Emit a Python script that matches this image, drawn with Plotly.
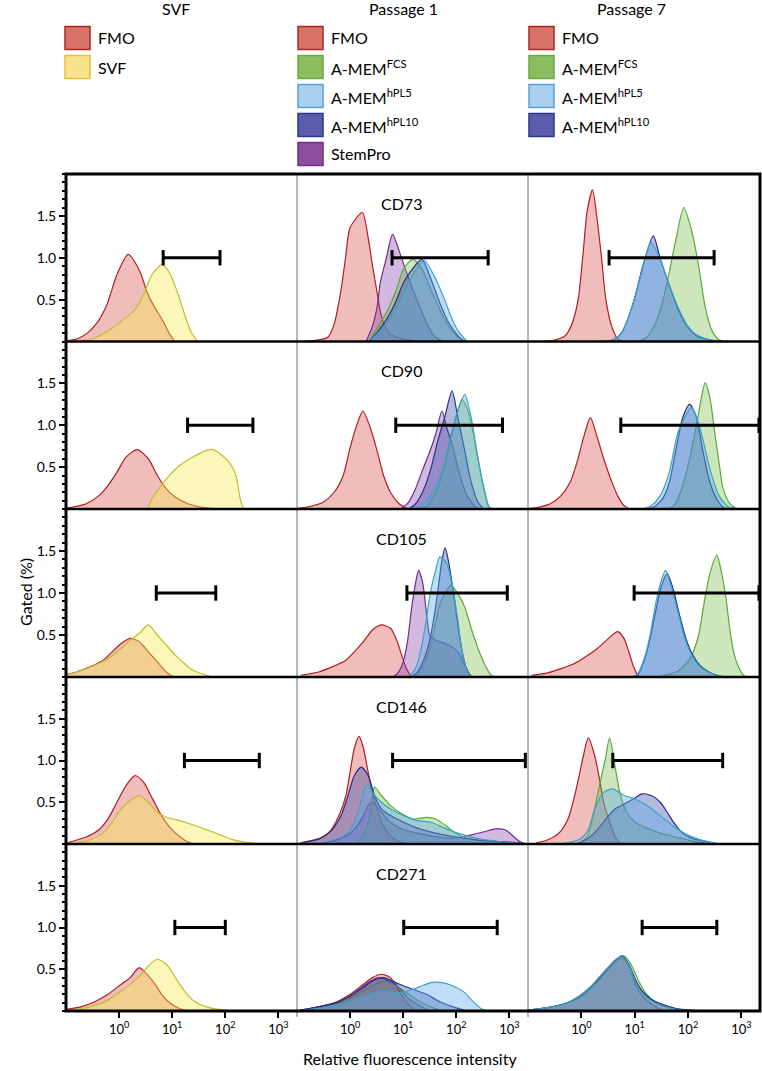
import plotly.graph_objects as go

W, H = 762, 1071

# ---- data: x given as log10(intensity), y = gated (%) ----
CD73_SVF = {
    "FMO": ([-1.0, -0.8, -0.6, -0.42, -0.23, -0.04, 0.17, 0.39, 0.52, 0.64, 0.83, 0.96, 1.05],
            [0.01, 0.03, 0.1, 0.22, 0.44, 0.8, 1.04, 0.84, 0.6, 0.44, 0.24, 0.08, 0.0]),
    "SVF": ([-0.9, -0.5, -0.2, 0.1, 0.3, 0.46, 0.62, 0.81, 0.95, 1.08, 1.22, 1.35, 1.48],
            [0.0, 0.03, 0.13, 0.27, 0.38, 0.56, 0.8, 0.92, 0.82, 0.62, 0.35, 0.12, 0.0]),
}
CD73_P1 = {
    "FMO": ([-0.95, -0.68, -0.42, -0.3, -0.17, -0.08, 0.0, 0.23, 0.34, 0.42, 0.51, 0.59, 0.72, 0.93, 1.27],
            [0.0, 0.01, 0.05, 0.21, 0.62, 1.03, 1.36, 1.54, 1.24, 0.91, 0.58, 0.3, 0.11, 0.04, 0.0]),
    "StemPro": ([0.3, 0.42, 0.51, 0.57, 0.68, 0.8, 0.93, 1.06, 1.18, 1.31, 1.44, 1.6, 1.78],
                [0.0, 0.18, 0.42, 0.71, 0.99, 1.28, 1.07, 0.83, 0.62, 0.42, 0.22, 0.05, 0.0]),
    "FCS": ([0.35, 0.51, 0.68, 0.85, 1.01, 1.18, 1.35, 1.52, 1.69, 1.86, 2.03, 2.2],
            [0.0, 0.16, 0.34, 0.58, 0.87, 0.98, 0.87, 0.62, 0.38, 0.18, 0.05, 0.0]),
    "hPL5": ([0.35, 0.51, 0.68, 0.85, 1.01, 1.18, 1.39, 1.61, 1.78, 1.9, 2.03, 2.2],
             [0.0, 0.09, 0.22, 0.38, 0.58, 0.79, 0.97, 0.75, 0.5, 0.3, 0.13, 0.0]),
    "hPL10": ([0.35, 0.51, 0.68, 0.85, 1.01, 1.18, 1.35, 1.52, 1.69, 1.86, 2.03, 2.15],
              [0.0, 0.11, 0.26, 0.46, 0.71, 0.87, 0.98, 0.75, 0.46, 0.22, 0.07, 0.0]),
}
CD73_P7 = {
    "FMO": ([-0.8, -0.55, -0.3, -0.17, -0.06, 0.03, 0.11, 0.21, 0.3, 0.38, 0.46, 0.57, 0.68, 0.8],
            [0.0, 0.01, 0.07, 0.22, 0.5, 1.03, 1.56, 1.81, 1.44, 0.99, 0.5, 0.18, 0.03, 0.0]),
    "FCS": ([1.05, 1.23, 1.39, 1.52, 1.65, 1.78, 1.92, 2.07, 2.2, 2.32, 2.45, 2.58, 2.7],
            [0.0, 0.05, 0.22, 0.46, 0.83, 1.24, 1.6, 1.32, 0.9, 0.42, 0.13, 0.02, 0.0]),
    "hPL5": ([0.45, 0.63, 0.76, 0.89, 1.01, 1.14, 1.3, 1.48, 1.65, 1.82, 1.99, 2.16, 2.41, 2.6],
             [0.0, 0.03, 0.11, 0.3, 0.54, 0.85, 1.18, 0.98, 0.67, 0.4, 0.19, 0.08, 0.02, 0.0]),
    "hPL10": ([0.45, 0.63, 0.76, 0.89, 1.01, 1.14, 1.35, 1.48, 1.65, 1.82, 1.99, 2.16, 2.41, 2.6],
              [0.0, 0.03, 0.11, 0.3, 0.54, 0.87, 1.26, 0.99, 0.67, 0.38, 0.18, 0.07, 0.02, 0.0]),
}

CD90_SVF = {
    "FMO": ([-1.0, -0.63, -0.38, -0.21, -0.04, 0.13, 0.34, 0.55, 0.72, 0.89, 1.06, 1.31, 1.56, 1.9],
            [0.01, 0.06, 0.16, 0.28, 0.44, 0.62, 0.71, 0.6, 0.4, 0.24, 0.14, 0.06, 0.02, 0.0]),
    "SVF": ([0.55, 0.6, 0.7, 0.89, 1.14, 1.39, 1.65, 1.77, 1.9, 2.07, 2.2, 2.28, 2.34],
            [0.0, 0.1, 0.2, 0.36, 0.52, 0.62, 0.7, 0.71, 0.66, 0.56, 0.4, 0.12, 0.0]),
}
CD90_P1 = {
    "FMO": ([-0.97, -0.76, -0.51, -0.3, -0.13, 0.0, 0.13, 0.24, 0.38, 0.51, 0.63, 0.76, 0.93, 1.1],
            [0.01, 0.03, 0.08, 0.2, 0.4, 0.73, 1.01, 1.17, 0.97, 0.69, 0.4, 0.2, 0.06, 0.0]),
    "StemPro": ([0.95, 1.1, 1.23, 1.35, 1.48, 1.61, 1.73, 1.82, 1.94, 2.07, 2.2, 2.37, 2.45],
                [0.0, 0.08, 0.24, 0.44, 0.65, 0.89, 1.17, 0.97, 0.73, 0.4, 0.16, 0.02, 0.0]),
    "FCS": ([1.2, 1.45, 1.61, 1.73, 1.86, 1.99, 2.11, 2.24, 2.37, 2.49, 2.6, 2.68],
            [0.0, 0.04, 0.2, 0.4, 0.73, 1.09, 1.31, 1.13, 0.73, 0.32, 0.04, 0.0]),
    "hPL5": ([1.15, 1.31, 1.48, 1.65, 1.78, 1.9, 2.03, 2.16, 2.28, 2.41, 2.54, 2.62, 2.7],
             [0.0, 0.02, 0.12, 0.32, 0.56, 0.89, 1.17, 1.37, 1.09, 0.6, 0.2, 0.02, 0.0]),
    "hPL10": ([1.1, 1.23, 1.39, 1.52, 1.65, 1.78, 1.92, 2.03, 2.16, 2.28, 2.41, 2.52],
              [0.0, 0.06, 0.24, 0.48, 0.81, 1.09, 1.41, 1.09, 0.69, 0.32, 0.08, 0.0]),
}
CD90_P7 = {
    "FMO": ([-1.0, -0.89, -0.59, -0.38, -0.21, -0.08, 0.04, 0.17, 0.3, 0.42, 0.55, 0.68, 0.8, 0.9],
            [0.0, 0.01, 0.06, 0.16, 0.32, 0.56, 0.85, 1.09, 0.85, 0.6, 0.36, 0.16, 0.04, 0.0]),
    "FCS": ([1.65, 1.78, 1.9, 2.03, 2.16, 2.24, 2.32, 2.41, 2.49, 2.58, 2.66, 2.79, 2.92],
            [0.0, 0.08, 0.28, 0.6, 1.01, 1.29, 1.51, 1.33, 0.97, 0.56, 0.24, 0.06, 0.0]),
    "hPL5": ([1.15, 1.31, 1.48, 1.65, 1.82, 2.07, 2.24, 2.41, 2.58, 2.75, 2.95],
             [0.0, 0.04, 0.16, 0.44, 0.93, 1.21, 0.93, 0.48, 0.16, 0.03, 0.0]),
    "hPL10": ([1.2, 1.35, 1.52, 1.65, 1.78, 1.9, 2.03, 2.16, 2.28, 2.41, 2.54, 2.66, 2.8],
              [0.0, 0.02, 0.12, 0.32, 0.73, 1.09, 1.25, 1.09, 0.69, 0.32, 0.12, 0.02, 0.0]),
}

CD105_SVF = {
    "FMO": ([-1.0, -0.8, -0.55, -0.3, -0.13, 0.04, 0.21, 0.38, 0.55, 0.72, 0.89, 0.97, 1.05],
            [0.03, 0.06, 0.12, 0.2, 0.3, 0.4, 0.46, 0.42, 0.3, 0.18, 0.06, 0.02, 0.0]),
    "SVF": ([-1.0, -0.8, -0.46, -0.21, 0.04, 0.21, 0.38, 0.55, 0.72, 0.89, 1.06, 1.23, 1.39, 1.65, 1.78],
            [0.03, 0.06, 0.14, 0.22, 0.34, 0.44, 0.52, 0.62, 0.5, 0.38, 0.26, 0.16, 0.08, 0.02, 0.0]),
}
CD105_P1 = {
    "FMO": ([-0.93, -0.59, -0.34, -0.08, 0.08, 0.25, 0.42, 0.59, 0.76, 0.89, 0.97, 1.06, 1.14, 1.2],
            [0.02, 0.06, 0.12, 0.2, 0.3, 0.42, 0.56, 0.62, 0.58, 0.42, 0.26, 0.1, 0.02, 0.0]),
    "StemPro": ([0.8, 0.89, 1.0, 1.08, 1.16, 1.23, 1.29, 1.37, 1.44, 1.5, 1.61, 1.86, 2.03, 2.16, 2.28],
                [0.0, 0.04, 0.18, 0.42, 0.83, 1.11, 1.27, 1.11, 0.75, 0.5, 0.44, 0.38, 0.3, 0.14, 0.0]),
    "FCS": ([1.2, 1.35, 1.48, 1.59, 1.67, 1.78, 1.9, 2.03, 2.16, 2.28, 2.41, 2.54, 2.66, 2.75],
            [0.0, 0.1, 0.3, 0.58, 0.83, 0.99, 1.09, 0.99, 0.83, 0.58, 0.34, 0.14, 0.02, 0.0]),
    "hPL5": ([1.1, 1.23, 1.34, 1.44, 1.52, 1.61, 1.69, 1.82, 1.93, 2.03, 2.11, 2.21, 2.3],
             [0.0, 0.1, 0.34, 0.71, 1.03, 1.27, 1.43, 1.35, 1.07, 0.67, 0.3, 0.06, 0.0]),
    "hPL10": ([1.15, 1.27, 1.42, 1.52, 1.61, 1.67, 1.73, 1.79, 1.86, 1.94, 2.03, 2.11, 2.21, 2.3],
              [0.0, 0.06, 0.26, 0.5, 0.83, 1.11, 1.39, 1.54, 1.35, 1.03, 0.62, 0.3, 0.06, 0.0]),
}
CD105_P7 = {
    "FMO": ([-0.93, -0.63, -0.38, -0.13, 0.08, 0.3, 0.51, 0.68, 0.8, 0.89, 0.97, 1.06, 1.12],
            [0.02, 0.05, 0.1, 0.16, 0.24, 0.34, 0.46, 0.54, 0.46, 0.3, 0.14, 0.02, 0.0]),
    "FCS": ([1.4, 1.56, 1.78, 1.94, 2.07, 2.2, 2.31, 2.41, 2.54, 2.62, 2.71, 2.79, 2.87, 2.96, 3.04, 3.12],
            [0.0, 0.02, 0.06, 0.14, 0.26, 0.5, 0.91, 1.23, 1.45, 1.27, 0.95, 0.54, 0.26, 0.1, 0.02, 0.0]),
    "hPL5": ([0.95, 1.06, 1.18, 1.29, 1.38, 1.48, 1.58, 1.69, 1.82, 1.94, 2.07, 2.2, 2.37, 2.55, 2.7],
             [0.0, 0.04, 0.22, 0.5, 0.83, 1.11, 1.27, 1.07, 0.75, 0.46, 0.26, 0.14, 0.06, 0.02, 0.0]),
    "hPL10": ([0.95, 1.06, 1.18, 1.29, 1.4, 1.5, 1.61, 1.72, 1.84, 1.96, 2.09, 2.22, 2.39, 2.55, 2.7],
              [0.0, 0.03, 0.2, 0.46, 0.8, 1.08, 1.23, 1.05, 0.74, 0.46, 0.26, 0.14, 0.06, 0.02, 0.0]),
}

CD146_SVF = {
    "FMO": ([-1.0, -0.89, -0.63, -0.38, -0.21, -0.04, 0.13, 0.3, 0.46, 0.63, 0.8, 0.97, 1.14, 1.31, 1.45],
            [0.01, 0.03, 0.08, 0.17, 0.3, 0.5, 0.7, 0.82, 0.74, 0.54, 0.34, 0.19, 0.09, 0.02, 0.0]),
    "SVF": ([-0.8, -0.55, -0.3, -0.13, 0.04, 0.21, 0.38, 0.55, 0.72, 0.89, 1.14, 1.39, 1.65, 1.9, 2.15, 2.41, 2.66],
            [0.01, 0.05, 0.13, 0.26, 0.42, 0.52, 0.58, 0.5, 0.38, 0.32, 0.28, 0.23, 0.17, 0.11, 0.05, 0.02, 0.0]),
}
CD146_P1 = {
    "FMO": ([-0.95, -0.59, -0.38, -0.21, -0.08, 0.0, 0.08, 0.17, 0.25, 0.34, 0.42, 0.51, 0.59, 0.72, 0.85, 1.01, 1.15],
            [0.01, 0.06, 0.15, 0.34, 0.58, 0.86, 1.15, 1.29, 1.15, 0.86, 0.62, 0.42, 0.26, 0.13, 0.05, 0.01, 0.0]),
    "StemPro": ([-0.6, -0.25, -0.04, 0.13, 0.25, 0.34, 0.42, 0.59, 0.76, 1.01, 1.27, 1.61, 1.94, 2.28, 2.54, 2.75, 2.92, 3.04, 3.17, 3.3],
                [0.0, 0.05, 0.11, 0.21, 0.34, 0.46, 0.5, 0.38, 0.26, 0.17, 0.13, 0.09, 0.07, 0.11, 0.15, 0.18, 0.17, 0.11, 0.04, 0.0]),
    "FCS": ([0.05, 0.19, 0.3, 0.38, 0.46, 0.59, 0.76, 0.93, 1.18, 1.44, 1.61, 1.78, 1.94, 2.11, 2.37, 2.79, 3.21],
            [0.0, 0.05, 0.17, 0.38, 0.68, 0.58, 0.46, 0.38, 0.3, 0.32, 0.3, 0.23, 0.15, 0.09, 0.05, 0.02, 0.0]),
    "hPL5": ([-0.6, -0.42, -0.13, 0.04, 0.17, 0.25, 0.34, 0.42, 0.59, 0.76, 1.01, 1.27, 1.52, 1.78, 2.03, 2.37, 2.79, 3.21, 3.35],
             [0.0, 0.03, 0.09, 0.21, 0.42, 0.62, 0.72, 0.62, 0.5, 0.42, 0.34, 0.28, 0.26, 0.19, 0.13, 0.07, 0.03, 0.01, 0.0]),
    "hPL10": ([-0.9, -0.55, -0.34, -0.17, -0.04, 0.08, 0.21, 0.34, 0.46, 0.59, 0.76, 1.01, 1.27, 1.61, 1.94, 2.37, 2.79, 3.21, 3.35],
              [0.02, 0.07, 0.17, 0.34, 0.58, 0.82, 0.92, 0.82, 0.58, 0.42, 0.34, 0.26, 0.19, 0.13, 0.09, 0.05, 0.03, 0.01, 0.0]),
}
CD146_P7 = {
    "FMO": ([-0.85, -0.63, -0.42, -0.25, -0.14, -0.04, 0.04, 0.13, 0.25, 0.34, 0.42, 0.53, 0.63, 0.74],
            [0.01, 0.05, 0.13, 0.3, 0.54, 0.82, 1.06, 1.27, 1.06, 0.78, 0.5, 0.26, 0.09, 0.0]),
    "FCS": ([-0.05, 0.11, 0.21, 0.3, 0.38, 0.45, 0.53, 0.63, 0.72, 0.85, 1.01, 1.23, 1.48, 1.73, 1.99, 2.24, 2.5],
            [0.0, 0.09, 0.3, 0.58, 0.82, 1.02, 1.27, 0.94, 0.62, 0.38, 0.26, 0.19, 0.13, 0.09, 0.05, 0.02, 0.0]),
    "hPL5": ([-0.4, -0.21, 0.0, 0.13, 0.25, 0.42, 0.59, 0.8, 1.01, 1.23, 1.48, 1.73, 1.99, 2.24, 2.58],
             [0.0, 0.02, 0.07, 0.17, 0.42, 0.62, 0.66, 0.58, 0.54, 0.46, 0.34, 0.21, 0.11, 0.05, 0.0]),
    "hPL10": ([-0.1, 0.13, 0.3, 0.46, 0.63, 0.8, 0.97, 1.14, 1.31, 1.48, 1.61, 1.73, 1.9, 2.07, 2.32, 2.6],
              [0.0, 0.07, 0.17, 0.3, 0.42, 0.48, 0.54, 0.6, 0.58, 0.5, 0.38, 0.26, 0.13, 0.07, 0.03, 0.0]),
}

CD271_SVF = {
    "FMO": ([-1.0, -0.72, -0.46, -0.21, 0.04, 0.21, 0.38, 0.55, 0.68, 0.8, 0.97, 1.14, 1.3],
            [0.02, 0.05, 0.11, 0.2, 0.32, 0.4, 0.52, 0.42, 0.32, 0.2, 0.09, 0.03, 0.0]),
    "SVF": ([-0.89, -0.55, -0.21, 0.04, 0.25, 0.42, 0.55, 0.72, 0.89, 1.06, 1.23, 1.39, 1.65, 1.99, 2.25],
            [0.01, 0.05, 0.13, 0.24, 0.34, 0.44, 0.54, 0.62, 0.56, 0.4, 0.24, 0.13, 0.05, 0.01, 0.0]),
}
CD271_P1 = {
    "FMO": ([-0.93, -0.59, -0.25, 0.0, 0.25, 0.42, 0.59, 0.76, 0.89, 1.01, 1.14, 1.25],
            [0.01, 0.05, 0.11, 0.2, 0.32, 0.4, 0.44, 0.4, 0.28, 0.15, 0.05, 0.0]),
    "StemPro": ([-0.93, -0.59, -0.25, 0.0, 0.25, 0.42, 0.55, 0.85, 1.1, 1.35, 1.5],
                [0.01, 0.05, 0.1, 0.18, 0.3, 0.37, 0.4, 0.32, 0.15, 0.05, 0.0]),
    "FCS": ([-0.93, -0.59, -0.25, 0.0, 0.3, 0.5, 0.68, 1.01, 1.27, 1.52, 1.75],
            [0.01, 0.04, 0.09, 0.16, 0.26, 0.33, 0.36, 0.24, 0.13, 0.05, 0.0]),
    "hPL5": ([-0.85, -0.42, 0.0, 0.34, 0.59, 0.93, 1.27, 1.52, 1.73, 1.94, 2.16, 2.32, 2.49, 2.6],
             [0.01, 0.05, 0.11, 0.2, 0.24, 0.22, 0.28, 0.34, 0.34, 0.3, 0.22, 0.11, 0.02, 0.0]),
    "hPL10": ([-0.93, -0.59, -0.25, 0.0, 0.25, 0.42, 0.63, 0.93, 1.18, 1.44, 1.69, 1.94, 2.2],
              [0.01, 0.05, 0.1, 0.18, 0.28, 0.36, 0.4, 0.32, 0.26, 0.2, 0.11, 0.05, 0.0]),
}
CD271_P7 = {
    "FMO": ([-1.0, -0.63, -0.3, -0.04, 0.17, 0.34, 0.51, 0.63, 0.76, 0.89, 1.01, 1.14, 1.31, 1.55],
            [0.01, 0.04, 0.09, 0.17, 0.28, 0.4, 0.52, 0.6, 0.64, 0.54, 0.32, 0.18, 0.08, 0.0]),
    "FCS": ([-1.0, -0.63, -0.3, -0.04, 0.17, 0.34, 0.51, 0.63, 0.8, 0.93, 1.06, 1.2, 1.4, 1.65, 1.9, 2.15],
            [0.01, 0.04, 0.09, 0.16, 0.27, 0.38, 0.5, 0.58, 0.66, 0.56, 0.38, 0.22, 0.1, 0.04, 0.01, 0.0]),
    "hPL5": ([-1.0, -0.63, -0.3, -0.04, 0.17, 0.34, 0.51, 0.63, 0.76, 0.89, 1.01, 1.14, 1.31, 1.52, 1.78, 2.07],
             [0.01, 0.04, 0.09, 0.18, 0.29, 0.41, 0.53, 0.61, 0.65, 0.55, 0.35, 0.21, 0.12, 0.06, 0.02, 0.0]),
    "hPL10": ([-1.0, -0.63, -0.3, -0.04, 0.17, 0.34, 0.51, 0.63, 0.76, 0.89, 1.01, 1.14, 1.31, 1.52, 1.78, 2.07, 2.32],
              [0.01, 0.04, 0.09, 0.17, 0.28, 0.39, 0.52, 0.6, 0.66, 0.56, 0.38, 0.24, 0.14, 0.08, 0.03, 0.01, 0.0]),
}

# gate bars (log10 start, log10 end), one per column
GATES_CD73 = [(0.83, 1.9), (0.79, 2.6), (0.52, 2.49)]
GATES_CD90 = [(1.29, 2.52), (0.86, 2.87), (0.74, 3.33)]
GATES_CD105 = [(0.7, 1.82), (1.07, 2.96), (0.99, 3.33)]
GATES_CD146 = [(1.23, 2.64), (0.8, 3.3), (0.59, 2.65)]
GATES_CD271 = [(1.05, 2.0), (1.01, 2.77), (1.14, 2.54)]

MARKERS = ["CD73", "CD90", "CD105", "CD146", "CD271"]
PANELS = [
    [CD73_SVF, CD73_P1, CD73_P7],
    [CD90_SVF, CD90_P1, CD90_P7],
    [CD105_SVF, CD105_P1, CD105_P7],
    [CD146_SVF, CD146_P1, CD146_P7],
    [CD271_SVF, CD271_P1, CD271_P7],
]
GATES = [GATES_CD73, GATES_CD90, GATES_CD105, GATES_CD146, GATES_CD271]
COLUMN_TITLES = ["SVF", "Passage 1", "Passage 7"]
LEGENDS = [
    ["FMO", "SVF"],
    ["FMO", "FCS", "hPL5", "hPL10", "StemPro"],
    ["FMO", "FCS", "hPL5", "hPL10"],
]
LABELS = {"FMO": "FMO", "SVF": "SVF", "FCS": "A-MEM<sup>FCS</sup>",
          "hPL5": "A-MEM<sup>hPL5</sup>", "hPL10": "A-MEM<sup>hPL10</sup>", "StemPro": "StemPro"}

# line colour, fill colour
STYLE = {
    "FMO": ("#B01E1E", "rgba(215,80,80,0.38)"),
    "SVF": ("#C4BC2C", "rgba(245,232,80,0.40)"),
    "FCS": ("#5AAA3A", "rgba(120,185,70,0.36)"),
    "hPL5": ("#3AA4C2", "rgba(95,170,230,0.40)"),
    "hPL10": ("#25308A", "rgba(45,60,165,0.36)"),
    "StemPro": ("#6E2C91", "rgba(130,60,165,0.36)"),
}
# legend swatch fill, border
SWATCH = {
    "FMO": ("#D9736A", "#A8282A"),
    "SVF": ("#F8E38C", "#E8BE3A"),
    "FCS": ("#8BBE5F", "#6BA846"),
    "hPL5": ("#AAD0F0", "#5AA0D8"),
    "hPL10": ("#5A5DAA", "#2C3590"),
    "StemPro": ("#8E4E9E", "#6E2E8A"),
}
DRAW_ORDER = ["FMO", "SVF", "StemPro", "FCS", "hPL10", "hPL5"]

FONT = "Lato, 'Open Sans', sans-serif"
COL_EDGES = [66, 297, 528, 760]
ROW_EDGES = [174, 341.5, 509, 677, 844, 1011]
X_RANGE = [-1.0, 3.35]


def fx(p):
    return p / W


def fy(p):
    return 1 - p / H


fig = go.Figure()
layout = dict(
    width=W, height=H, margin=dict(l=0, r=0, t=0, b=0),
    plot_bgcolor="white", paper_bgcolor="white", showlegend=False,
    font=dict(family=FONT, color="black"),
)
shapes = []
annotations = []

for r in range(5):
    for c in range(3):
        k = r * 3 + c + 1
        xa, ya = f"x{k}", f"y{k}"
        for name in DRAW_ORDER:
            if name not in PANELS[r][c]:
                continue
            lx, yv = PANELS[r][c][name]
            line_col, fill_col = STYLE[name]
            fig.add_trace(go.Scatter(
                x=[10 ** v for v in lx], y=yv, xaxis=xa, yaxis=ya,
                mode="lines", line=dict(color=line_col, width=1.2, shape="spline", smoothing=0.7),
                fill="tozeroy", fillcolor=fill_col, hoverinfo="skip",
            ))
        g0, g1 = GATES[r][c]
        fig.add_trace(go.Scatter(
            x=[10 ** g0, 10 ** g1], y=[1.0, 1.0], xaxis=xa, yaxis=ya,
            mode="lines+markers", line=dict(color="black", width=3),
            marker=dict(symbol="line-ns", size=11, line=dict(color="black", width=3)),
            hoverinfo="skip", cliponaxis=False,
        ))

        xdom = [fx(COL_EDGES[c]), fx(COL_EDGES[c + 1])]
        ydom = [fy(ROW_EDGES[r + 1]), fy(ROW_EDGES[r])]
        xkey = "xaxis" if k == 1 else f"xaxis{k}"
        ykey = "yaxis" if k == 1 else f"yaxis{k}"
        bottom = r == 4
        layout[xkey] = dict(
            domain=xdom, anchor=ya, type="log", range=X_RANGE, showgrid=False, zeroline=False,
            showline=False, tickvals=[1, 10, 100, 1000],
            ticktext=["10<sup>0</sup>", "10<sup>1</sup>", "10<sup>2</sup>", "10<sup>3</sup>"],
            ticks="outside" if bottom else "", ticklen=6, tickwidth=2, tickcolor="black",
            showticklabels=bottom, tickfont=dict(size=13, family=FONT),
        )
        left = c == 0
        layout[ykey] = dict(
            domain=ydom, anchor=xa, range=[0, 2.0], showgrid=False, zeroline=False, showline=False,
            tickvals=[0.5, 1.0, 1.5], ticktext=["0.5", "1.0", "1.5"],
            ticks="outside" if left else "", ticklen=6, tickwidth=2, tickcolor="black",
            showticklabels=left, tickfont=dict(size=14, family=FONT),
            minor=dict(dtick=0.1, tick0=0, ticks="outside" if left else "", ticklen=3,
                       tickwidth=1.5, tickcolor="black"),
        )

    # marker label
    annotations.append(dict(
        text=MARKERS[r], xref="paper", yref="paper", x=fx(401), y=fy(ROW_EDGES[r] + 29),
        showarrow=False, font=dict(size=16, family=FONT), xanchor="center", yanchor="middle",
    ))

# frame
for c in (1, 2):
    shapes.append(dict(type="line", xref="paper", yref="paper",
                       x0=fx(COL_EDGES[c]), x1=fx(COL_EDGES[c]), y0=fy(ROW_EDGES[0]), y1=fy(ROW_EDGES[-1] + 6),
                       line=dict(color="#6E6E6E", width=1)))
for r in range(1, 5):
    shapes.append(dict(type="line", xref="paper", yref="paper",
                       x0=fx(COL_EDGES[0]), x1=fx(COL_EDGES[-1]), y0=fy(ROW_EDGES[r]), y1=fy(ROW_EDGES[r]),
                       line=dict(color="black", width=2.5)))
shapes.append(dict(type="rect", xref="paper", yref="paper",
                   x0=fx(COL_EDGES[0]), x1=fx(COL_EDGES[-1]), y0=fy(ROW_EDGES[-1]), y1=fy(ROW_EDGES[0]),
                   line=dict(color="black", width=3)))

# column titles and legends
TITLE_X = [176, 403, 631]
SWATCH_X = [65, 298, 529]
for c in range(3):
    annotations.append(dict(
        text=COLUMN_TITLES[c], xref="paper", yref="paper", x=fx(TITLE_X[c]), y=fy(9),
        showarrow=False, font=dict(size=16, family=FONT), xanchor="center", yanchor="middle",
    ))
    for i, name in enumerate(LEGENDS[c]):
        yc = 38 + 29 * i
        fill, border = SWATCH[name]
        shapes.append(dict(type="rect", xref="paper", yref="paper",
                           x0=fx(SWATCH_X[c]), x1=fx(SWATCH_X[c] + 25), y0=fy(yc + 11.5), y1=fy(yc - 11.5),
                           fillcolor=fill, line=dict(color=border, width=1.5)))
        annotations.append(dict(
            text=LABELS[name], xref="paper", yref="paper", x=fx(SWATCH_X[c] + 31), y=fy(yc),
            showarrow=False, font=dict(size=16, family=FONT), xanchor="left", yanchor="middle",
        ))

annotations.append(dict(
    text="Gated (%)", xref="paper", yref="paper", x=fx(25), y=fy(592), textangle=-90,
    showarrow=False, font=dict(size=16, family=FONT), xanchor="center", yanchor="middle",
))
annotations.append(dict(
    text="Relative fluorescence intensity", xref="paper", yref="paper", x=fx(410), y=fy(1058),
    showarrow=False, font=dict(size=16, family=FONT), xanchor="center", yanchor="middle",
))

layout["shapes"] = shapes
layout["annotations"] = annotations
fig.update_layout(**layout)

# drop the default page margin so the figure sits at the window's corner
fig.write_html("out.html", config={"displayModeBar": False},
               post_script="document.body.style.margin='0';")
